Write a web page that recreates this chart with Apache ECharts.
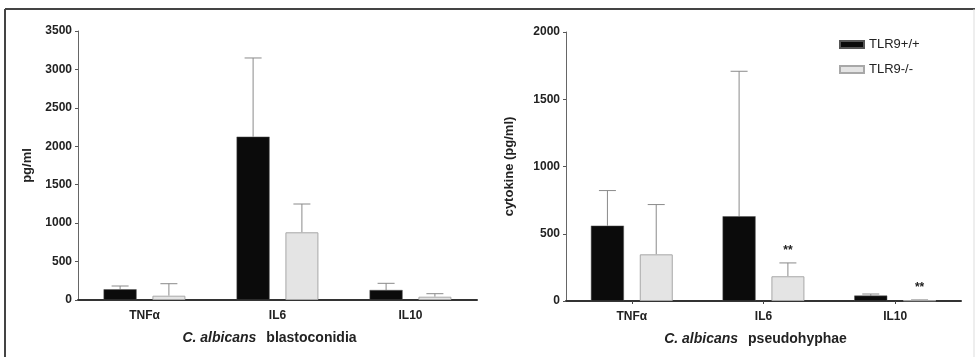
<!DOCTYPE html>
<html>
<head>
<meta charset="UTF-8">
<title>TLR9 cytokines</title>
<script src="https://cdn.jsdelivr.net/npm/echarts@6/dist/echarts.min.js"></script>
<style>
  html, body { margin: 0; padding: 0; background: #fff; }
  #main { width: 975px; height: 357px; }
</style>
</head>
<body>
<div id="main"></div>
<script type="text/javascript">
    // data
    var cytokines = ['TNF\u03b1', 'IL6', 'IL10'];
    var seriesNames = ['TLR9+/+', 'TLR9-/-'];

    // C. albicans blastoconidia (pg/ml)
    var blastoWT = [139, 2125, 130];
    var blastoWTsd = [43, 1024, 87];
    var blastoKO = [56, 881, 43];
    var blastoKOsd = [156, 368, 39];

    // C. albicans pseudohyphae (pg/ml)
    var pseudoWT = [560, 630, 40];
    var pseudoWTsd = [261, 1078, 12];
    var pseudoKO = [347, 184, 5];
    var pseudoKOsd = [370, 99, 3];
    var pseudoKOsig = ['', '**', '**'];

    var myChart = echarts.init(document.getElementById('main'));

    var font = 'Liberation Sans, Arial, sans-serif';

    // upper error whisker with cap, offset to the bar centre
    function errorSeries(name, gridIdx, means, sds, offset, sig) {
        var data = [];
        for (var i = 0; i < means.length; i++) {
            data.push([i, means[i], means[i] + sds[i], sig ? sig[i] : '']);
        }
        return {
            type: 'custom',
            name: name,
            xAxisIndex: gridIdx,
            yAxisIndex: gridIdx,
            z: 1,
            silent: true,
            data: data,
            renderItem: function (params, api) {
                var base = api.coord([api.value(0), api.value(1)]);
                var top = api.coord([api.value(0), api.value(2)]);
                var x = base[0] + offset;
                var style = { stroke: '#8a8a8a', lineWidth: 1 };
                var children = [
                    { type: 'line', shape: { x1: x, y1: base[1], x2: x, y2: top[1] }, style: style },
                    { type: 'line', shape: { x1: x - 8.5, y1: top[1], x2: x + 8.5, y2: top[1] }, style: style }
                ];
                var s = api.value(3);
                if (s) {
                    children.push({
                        type: 'text',
                        style: {
                            text: s, x: x, y: top[1] - 12,
                            align: 'center', verticalAlign: 'middle',
                            font: 'bold 12px ' + font, fill: '#222'
                        }
                    });
                }
                return { type: 'group', children: children };
            }
        };
    }

    function barSeries(name, gridIdx, values, dark) {
        return {
            type: 'bar',
            name: name,
            xAxisIndex: gridIdx,
            yAxisIndex: gridIdx,
            barWidth: 33,
            barGap: '48%',
            z: 2,
            itemStyle: dark
                ? { color: '#0b0b0b', borderColor: '#555', borderWidth: 0.5 }
                : { color: '#e4e4e4', borderColor: '#a8a8a8', borderWidth: 1 },
            data: values
        };
    }

    function xAxisDef(gridIdx, label, showTicks) {
        return {
            type: 'category',
            gridIndex: gridIdx,
            data: cytokines,
            axisLine: { lineStyle: { color: '#333', width: 2 } },
            axisTick: { show: showTicks, alignWithLabel: true, length: 3, lineStyle: { color: '#444' } },
            axisLabel: { color: '#222', fontWeight: 'bold', fontSize: 12, fontFamily: font, margin: 10 },
            name: '{i|C. albicans}   {b|' + label + '}',
            nameLocation: 'middle',
            nameGap: 31,
            nameTextStyle: {
                padding: [0, 16, 0, 0],
                rich: {
                    i: { fontStyle: 'italic', fontWeight: 'bold', fontSize: 14, fontFamily: font, color: '#222' },
                    b: { fontWeight: 'bold', fontSize: 14, fontFamily: font, color: '#222' }
                }
            }
        };
    }

    function yAxisDef(gridIdx, max, name, gap) {
        return {
            type: 'value',
            gridIndex: gridIdx,
            min: 0,
            max: max,
            interval: 500,
            splitLine: { show: false },
            axisLine: { show: true, lineStyle: { color: '#666', width: 1 } },
            axisTick: { show: true, length: 3, lineStyle: { color: '#555' } },
            axisLabel: {
                color: '#222', fontWeight: 'bold', fontSize: 12, fontFamily: font, margin: 6,
                formatter: function (v) { return String(v); }
            },
            name: name,
            nameLocation: 'middle',
            nameGap: gap,
            nameTextStyle: { fontWeight: 'bold', fontSize: 13, fontFamily: font, color: '#222' }
        };
    }

    myChart.setOption({
        animation: false,
        grid: [
            { left: 78, right: 498, top: 31, bottom: 57 },
            { left: 566, right: 14, top: 32, bottom: 56 }
        ],
        legend: {
            data: seriesNames,
            orient: 'vertical',
            left: 834,
            top: 33,
            icon: 'rect',
            itemWidth: 24,
            itemHeight: 7,
            itemGap: 12,
            textStyle: { fontSize: 13, fontFamily: font, color: '#222' }
        },
        xAxis: [
            xAxisDef(0, 'blastoconidia', false),
            xAxisDef(1, 'pseudohyphae', true)
        ],
        yAxis: [
            yAxisDef(0, 3500, 'pg/ml', 44),
            yAxisDef(1, 2000, 'cytokine (pg/ml)', 50)
        ],
        series: [
            barSeries(seriesNames[0], 0, blastoWT, true),
            barSeries(seriesNames[1], 0, blastoKO, false),
            errorSeries(seriesNames[0], 0, blastoWT, blastoWTsd, -24.4),
            errorSeries(seriesNames[1], 0, blastoKO, blastoKOsd, 24.4),
            barSeries(seriesNames[0], 1, pseudoWT, true),
            barSeries(seriesNames[1], 1, pseudoKO, false),
            errorSeries(seriesNames[0], 1, pseudoWT, pseudoWTsd, -24.4),
            errorSeries(seriesNames[1], 1, pseudoKO, pseudoKOsd, 24.4, pseudoKOsig)
        ],
        graphic: [
            // outer frame of the figure
            { type: 'line', shape: { x1: 5, y1: 9, x2: 975, y2: 9 }, style: { stroke: '#444', lineWidth: 2 } },
            { type: 'line', shape: { x1: 5, y1: 9, x2: 5, y2: 357 }, style: { stroke: '#444', lineWidth: 2 } },
            { type: 'line', shape: { x1: 974, y1: 9, x2: 974, y2: 357 }, style: { stroke: '#ddd', lineWidth: 1 } }
        ]
    });
</script>
</body>
</html>
